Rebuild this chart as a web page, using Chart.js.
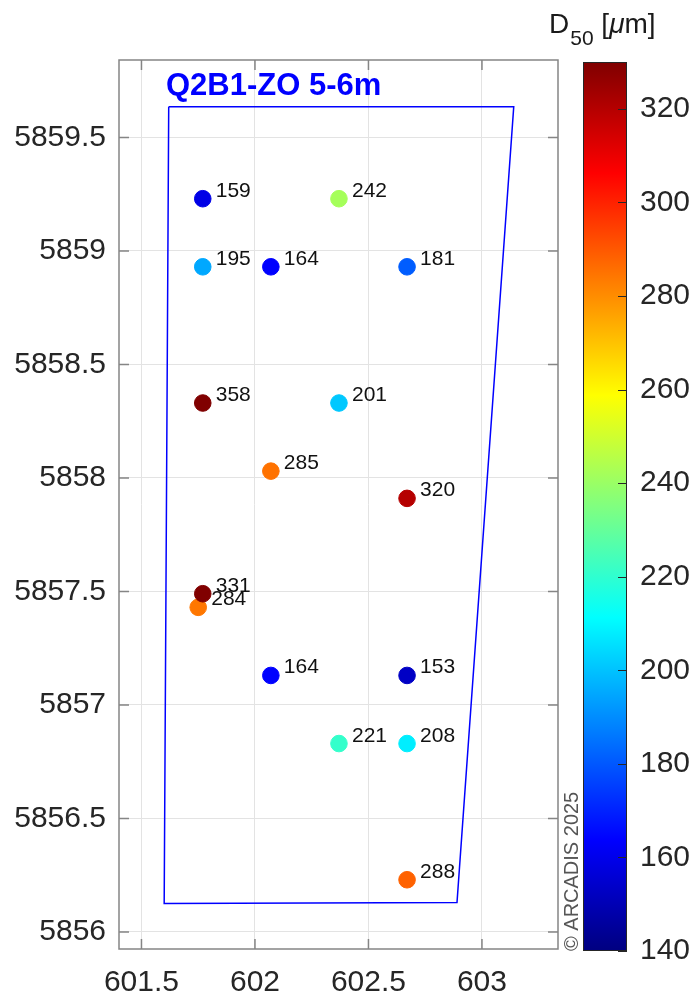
<!DOCTYPE html>
<html>
<head>
<meta charset="utf-8">
<script src="https://cdn.jsdelivr.net/npm/chart.js@4/dist/chart.umd.min.js"></script>
<style>
  body { margin: 0; background: #fff; }
  #main { position: absolute; left: 0; top: 0; }
  #cbar { position: absolute; left: 540px; top: 0; }
</style>
</head>
<body>
<canvas id="main" width="694" height="1003"></canvas>
<canvas id="cbar" width="154" height="1003"></canvas>
<script>
// sample locations (km) and D50 values
const sampleX = [601.77, 602.37, 601.77, 602.07, 602.67, 601.77, 602.37, 602.07, 602.67, 601.75, 601.77, 602.07, 602.67, 602.37, 602.67, 602.67];
const sampleY = [5859.23, 5859.23, 5858.93, 5858.93, 5858.93, 5858.33, 5858.33, 5858.03, 5857.91, 5857.43, 5857.49, 5857.13, 5857.13, 5856.83, 5856.83, 5856.23];
const d50 = [159, 242, 195, 164, 181, 358, 201, 285, 320, 284, 331, 164, 153, 221, 208, 288];

// area outline
const outlineX = [601.62, 603.14, 602.89, 601.60, 601.62];
const outlineY = [5859.635, 5859.635, 5856.13, 5856.125, 5859.635];

const xTicks = [601.5, 602, 602.5, 603];
const yTicks = [5856, 5856.5, 5857, 5857.5, 5858, 5858.5, 5859, 5859.5];
const cbTicks = [140, 160, 180, 200, 220, 240, 260, 280, 300, 320];
const cbMin = 140, cbMax = 330;

const FONT = '"Liberation Sans", Arial, Helvetica, sans-serif';
Chart.defaults.font.family = FONT;

function jet(t) {
  t = Math.min(1, Math.max(0, t));
  const c = v => Math.round(255 * Math.min(1, Math.max(0, v)));
  return `rgb(${c(1.5 - Math.abs(4 * t - 3))},${c(1.5 - Math.abs(4 * t - 2))},${c(1.5 - Math.abs(4 * t - 1))})`;
}
const colorOf = v => jet((v - cbMin) / (cbMax - cbMin));

const frame = {
  id: 'frame',
  afterDatasetsDraw(chart) {
    const ctx = chart.ctx;
    const meta = chart.getDatasetMeta(1);
    ctx.save();
    ctx.fillStyle = '#111';
    ctx.font = '21px ' + FONT;
    ctx.textBaseline = 'alphabetic';
    meta.data.forEach((pt, i) => ctx.fillText(String(d50[i]), pt.x + 13, pt.y - 2));
    ctx.restore();
  },
  afterDraw(chart) {
    const {ctx, chartArea: a, scales} = chart;
    ctx.save();
    ctx.strokeStyle = '#858585';
    ctx.lineWidth = 1.5;
    ctx.strokeRect(a.left, a.top, a.right - a.left, a.bottom - a.top);
    ctx.beginPath();
    xTicks.forEach(v => {
      const x = scales.x.getPixelForValue(v);
      ctx.moveTo(x, a.bottom); ctx.lineTo(x, a.bottom - 10);
      ctx.moveTo(x, a.top); ctx.lineTo(x, a.top + 10);
    });
    yTicks.forEach(v => {
      const y = scales.y.getPixelForValue(v);
      ctx.moveTo(a.left, y); ctx.lineTo(a.left + 10, y);
      ctx.moveTo(a.right, y); ctx.lineTo(a.right - 10, y);
    });
    ctx.stroke();

    // title
    ctx.fillStyle = '#0000ff';
    ctx.font = 'bold 31px ' + FONT;
    ctx.fillText('Q2B1-ZO 5-6m', 166, 95);

    // colorbar label
    ctx.fillStyle = '#1a1a1a';
    let x = 549;
    ctx.font = '28px ' + FONT;
    ctx.fillText('D', x, 33); x += ctx.measureText('D').width + 1;
    ctx.font = '21px ' + FONT;
    ctx.fillText('50', x, 45); x += ctx.measureText('50').width;
    ctx.font = '28px ' + FONT;
    ctx.fillText(' [', x, 33); x += ctx.measureText(' [').width;
    ctx.font = 'italic 28px ' + FONT;
    ctx.fillText('\u03bc', x, 33); x += ctx.measureText('\u03bc').width;
    ctx.font = '28px ' + FONT;
    ctx.fillText('m]', x, 33);

    // copyright
    ctx.translate(578, 951);
    ctx.rotate(-Math.PI / 2);
    ctx.fillStyle = '#555';
    ctx.font = '20px ' + FONT;
    ctx.fillText('\u00a9 ARCADIS 2025', 0, 0);
    ctx.restore();
  }
};

new Chart(document.getElementById('main'), {
  type: 'scatter',
  data: {
    datasets: [{
      data: outlineX.map((x, i) => ({x, y: outlineY[i]})),
      showLine: true,
      borderColor: '#0000ff',
      borderWidth: 1.5,
      pointRadius: 0,
      tension: 0,
      order: 2
    }, {
      data: sampleX.map((x, i) => ({x, y: sampleY[i]})),
      pointRadius: 8.3,
      pointBorderWidth: 1,
      pointBackgroundColor: d50.map(colorOf),
      pointBorderColor: d50.map(colorOf),
      order: 1
    }]
  },
  options: {
    responsive: false,
    animation: false,
    layout: {padding: {top: 60, right: 136, left: 0, bottom: 0}},
    plugins: {legend: {display: false}, tooltip: {enabled: false}},
    scales: {
      x: {
        type: 'linear', min: 601.401, max: 603.335,
        afterBuildTicks: s => { s.ticks = xTicks.map(v => ({value: v})); },
        afterFit: s => { s.height = 54; },
        grid: {color: '#e3e3e3', drawTicks: false},
        border: {display: false},
        ticks: {font: {size: 30}, color: '#262626', padding: 16, callback: v => String(v)}
      },
      y: {
        type: 'linear', min: 5855.925, max: 5859.841,
        afterBuildTicks: s => { s.ticks = yTicks.map(v => ({value: v})); },
        afterFit: s => { s.width = 119; },
        grid: {color: '#e3e3e3', drawTicks: false},
        border: {display: false},
        ticks: {font: {size: 30}, color: '#262626', padding: 13, callback: v => String(v)}
      }
    }
  },
  plugins: [frame]
});

const cbFrame = {
  id: 'cbFrame',
  afterDraw(chart) {
    const {ctx, chartArea: a, scales} = chart;
    ctx.save();
    ctx.strokeStyle = '#262626';
    ctx.lineWidth = 1;
    ctx.strokeRect(a.left + 0.5, a.top + 0.5, a.right - a.left - 1, a.bottom - a.top - 1);
    ctx.beginPath();
    cbTicks.forEach(v => {
      const y = Math.round(scales.y.getPixelForValue(v)) + 0.5;
      ctx.moveTo(a.right, y); ctx.lineTo(a.right - 9, y);
    });
    ctx.stroke();
    ctx.restore();
  }
};

new Chart(document.getElementById('cbar'), {
  type: 'bar',
  data: {
    labels: [''],
    datasets: [{
      data: [[cbMin, cbMax]],
      categoryPercentage: 1,
      barPercentage: 1,
      borderWidth: 0,
      backgroundColor: ctx => {
        const chart = ctx.chart;
        if (!chart.chartArea) return '#000';
        const ys = chart.scales.y;
        const g = chart.ctx.createLinearGradient(0, ys.getPixelForValue(cbMin), 0, ys.getPixelForValue(cbMax));
        for (let i = 0; i <= 64; i++) g.addColorStop(i / 64, jet(i / 64));
        return g;
      }
    }]
  },
  options: {
    responsive: false,
    animation: false,
    layout: {padding: {top: 62, bottom: 52, left: 43, right: 0}},
    plugins: {legend: {display: false}, tooltip: {enabled: false}},
    scales: {
      x: {display: false},
      y: {
        position: 'right', min: cbMin, max: cbMax,
        afterBuildTicks: s => { s.ticks = cbTicks.map(v => ({value: v})); },
        afterFit: s => { s.width = 67; },
        grid: {display: false, drawTicks: false},
        border: {display: false},
        ticks: {font: {size: 30}, color: '#262626', padding: 13}
      }
    }
  },
  plugins: [cbFrame]
});
</script>
</body>
</html>
